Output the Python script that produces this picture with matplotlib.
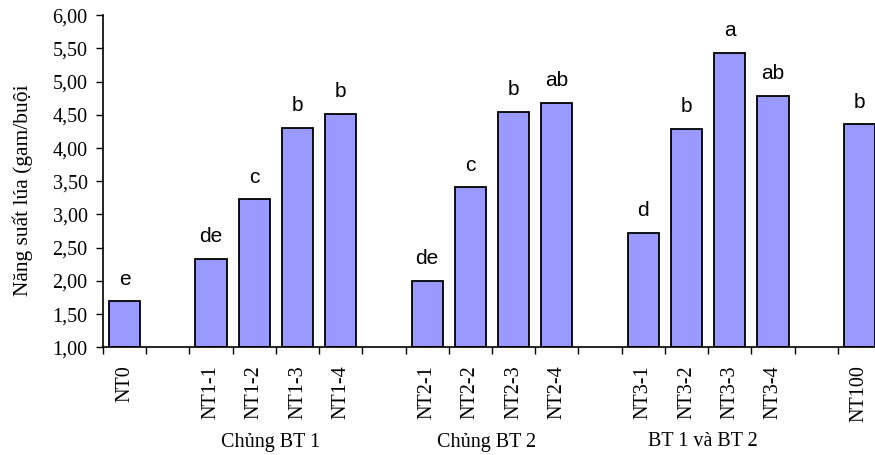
"""Năng suất lúa theo nghiệm thức — bar chart with significance letters."""
import matplotlib
matplotlib.use("Agg")
import matplotlib.pyplot as plt
from matplotlib.ticker import FixedLocator, FuncFormatter
import matplotlib.transforms as mtransforms

# ── Data ────────────────────────────────────────────────────────────────
# None marks an empty category slot (gap between groups)
categories = ["NT0", None, "NT1-1", "NT1-2", "NT1-3", "NT1-4", None,
              "NT2-1", "NT2-2", "NT2-3", "NT2-4", None,
              "NT3-1", "NT3-2", "NT3-3", "NT3-4", None, "NT100"]
yields = [1.69, None, 2.33, 3.23, 4.31, 4.52, None,
          2.00, 3.41, 4.55, 4.68, None,
          2.72, 4.29, 5.43, 4.79, None, 4.36]
letters = ["e", None, "de", "c", "b", "b", None,
           "de", "c", "b", "ab", None,
           "d", "b", "a", "ab", None, "b"]
group_names = ["Chủng BT 1", "Chủng BT 2", "BT 1 và BT 2"]
group_members = [["NT1-1", "NT1-2", "NT1-3", "NT1-4"],
                 ["NT2-1", "NT2-2", "NT2-3", "NT2-4"],
                 ["NT3-1", "NT3-2", "NT3-3", "NT3-4"]]
y_label = "Năng suất lúa (gam/buội"

SERIF = ["Liberation Serif", "DejaVu Serif"]
SANS = ["Liberation Sans", "DejaVu Sans"]

fig = plt.figure(figsize=(8.75, 4.55), dpi=100)
ax = fig.add_axes([103 / 875, 1 - 347.3 / 455, 778 / 875, (347.3 - 15.3) / 455])

pos = [i for i, c in enumerate(categories) if c is not None]
vals = [yields[i] for i in pos]
ax.bar(pos, [v - 1.0 for v in vals], bottom=1.0, width=0.72,
       color="#9999FF", edgecolor="black", linewidth=1.3, zorder=2)

for i in pos:
    ax.annotate(letters[i], (i, yields[i]), xytext=(0, 12),
                textcoords="offset points", ha="center", va="baseline",
                fontsize=15, family=SANS)

ax.set_xlim(-0.5, len(categories) - 0.5)
ax.set_ylim(1.0, 6.0)

# y axis
ax.yaxis.set_major_locator(FixedLocator([1.0 + 0.5 * k for k in range(11)]))
ax.yaxis.set_major_formatter(FuncFormatter(lambda v, _: f"{v:.2f}".replace(".", ",")))
ax.tick_params(axis="y", direction="out", length=5, width=1, pad=6, labelsize=14.5)
for lab in ax.get_yticklabels():
    lab.set_family(SERIF)

# x axis: tick marks between slots, labels at bar centres
ax.set_xticks([k - 0.5 for k in range(len(categories) + 1)])
ax.set_xticklabels([])
ax.tick_params(axis="x", which="major", direction="out", length=5, width=1)
ax.set_xticks(pos, minor=True)
ax.set_xticklabels([categories[i] for i in pos], minor=True, rotation=90,
                   family=SERIF, fontsize=14.5)
ax.tick_params(axis="x", which="minor", length=0, pad=13)

for side in ("top", "right"):
    ax.spines[side].set_visible(False)
for side in ("left", "bottom"):
    ax.spines[side].set_linewidth(1.2)

ax.set_ylabel(y_label, family=SERIF, fontsize=15.5)
ax.yaxis.set_label_coords(-0.09, 0.474)

# group captions under the category labels
trans = mtransforms.blended_transform_factory(ax.transData, fig.transFigure)
for name, members in zip(group_names, group_members):
    idx = [categories.index(m) for m in members]
    xc = sum(idx) / len(idx) - 0.12
    fig.text(xc, 1 - 442 / 455, name, transform=trans, ha="center",
             va="center", family=SERIF, fontsize=14.5)

fig.savefig("out.png", dpi=100)
